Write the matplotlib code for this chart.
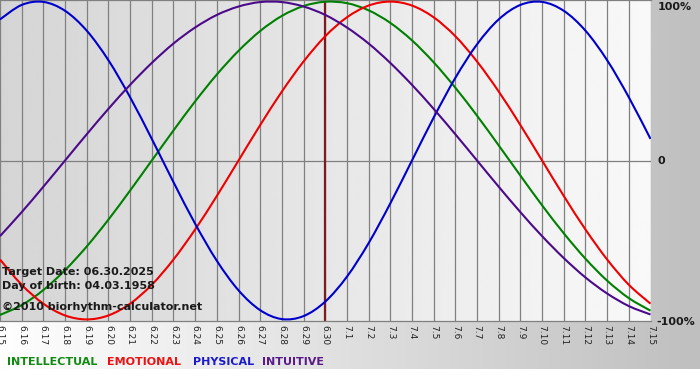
import matplotlib
matplotlib.use("Agg")
import matplotlib.pyplot as plt
from matplotlib.path import Path
from matplotlib.patches import PathPatch
import numpy as np

# dates shown on the x axis (6.15 .. 7.15)
dates = ["6.%d" % d for d in range(15, 31)] + ["7.%d" % d for d in range(1, 16)]
target_idx = 15  # 6.30

# daily cycle values (-1 .. 1)
physical = [0.888, 0.979, 0.998, 0.942, 0.817, 0.631, 0.398, 0.136, -0.136, -0.398,
            -0.631, -0.817, -0.942, -0.998, -0.979, -0.888, -0.731, -0.520, -0.270, 0.0,
            0.270, 0.520, 0.731, 0.888, 0.979, 0.998, 0.942, 0.817, 0.631, 0.398, 0.136]
emotional = [-0.623, -0.782, -0.901, -0.975, -1.0, -0.975, -0.901, -0.782, -0.623, -0.434,
             -0.223, 0.0, 0.223, 0.434, 0.623, 0.782, 0.901, 0.975, 1.0, 0.975,
             0.901, 0.782, 0.623, 0.434, 0.223, 0.0, -0.223, -0.434, -0.623, -0.782, -0.901]
intellectual = [-0.972, -0.910, -0.815, -0.690, -0.541, -0.372, -0.189, 0.0, 0.189, 0.372,
                0.541, 0.690, 0.815, 0.910, 0.972, 0.999, 0.990, 0.945, 0.866, 0.756,
                0.618, 0.458, 0.282, 0.095, -0.095, -0.282, -0.458, -0.618, -0.756, -0.866, -0.945]
intuitive = [-0.476, -0.325, -0.165, 0.0, 0.165, 0.325, 0.476, 0.614, 0.736, 0.837,
             0.916, 0.969, 0.997, 0.997, 0.969, 0.916, 0.837, 0.736, 0.614, 0.476,
             0.325, 0.165, 0.0, -0.165, -0.325, -0.476, -0.614, -0.736, -0.837, -0.916, -0.969]


def smooth_line(ax, xs, ys, color):
    # draw a curve through the points with bezier segments (catmull-rom style)
    p = np.column_stack([xs, ys]).astype(float)
    pp = np.vstack([p[0], p, p[-1]])
    verts = [p[0]]
    codes = [Path.MOVETO]
    for i in range(len(p) - 1):
        p0, p1, p2, p3 = pp[i], pp[i + 1], pp[i + 2], pp[i + 3]
        verts += [p1 + (p2 - p0) / 6, p2 - (p3 - p1) / 6, p2]
        codes += [Path.CURVE4] * 3
    ax.add_patch(PathPatch(Path(verts, codes), fill=False, edgecolor=color,
                           lw=1.5, zorder=3, capstyle="butt"))


W, H = 700, 380
fig = plt.figure(figsize=(W / 100, H / 100), dpi=100)

# page background: grey fade to the right, white strip at the bottom
bg = fig.add_axes([0, 0, 1, 1], zorder=-5)
shade = np.ones((H, W))
shade[:369, :] = np.linspace(1.0, 0.75, W)[None, :]
bg.imshow(np.dstack([shade] * 3), extent=[0, W, H, 0], aspect="auto")
bg.set_axis_off()

# plot area in pixels: x 0..650.5, y 0..321
ax = fig.add_axes([0, 1 - 321 / H, 650.5 / W, 321 / H])
x = np.arange(len(dates))
ax.imshow(np.linspace(0.835, 0.975, 300)[None, :], extent=[0, 30, -1.01, 1.01],
          aspect="auto", cmap="gray", vmin=0, vmax=1, zorder=0)

for i in x:
    ax.axvline(i, color="#808080", lw=0.9, zorder=1)
ax.axhline(0, color="#808080", lw=0.9, zorder=1)
ax.axvline(target_idx, color="#7a1c1c", lw=1.6, zorder=2)

smooth_line(ax, x, intellectual, "#008000")
smooth_line(ax, x, emotional, "#ee0000")
smooth_line(ax, x, physical, "#0000cc")
smooth_line(ax, x, intuitive, "#4b0a8a")

ax.set_xlim(0, 30)
ax.set_ylim(-1.01, 1.01)
ax.set_xticks(x)
ax.set_xticklabels(dates)
ax.tick_params(axis="x", length=0, pad=3, labelsize=6.5, rotation=-90, colors="#222222")
ax.set_yticks([])
for s in ["left", "right"]:
    ax.spines[s].set_visible(False)
for s in ["top", "bottom"]:
    ax.spines[s].set_color("#808080")
    ax.spines[s].set_linewidth(0.9)

info = dict(fontsize=8, fontweight="bold", color="#1a1a1a", va="center", ha="left")
fig.text(2 / W, 1 - 272 / H, "Target Date: 06.30.2025", **info)
fig.text(2 / W, 1 - 286 / H, "Day of birth: 04.03.1958", **info)
fig.text(2 / W, 1 - 307 / H, "©2010 biorhythm-calculator.net", **info)

# percent labels on the right
pct = dict(fontsize=8, fontweight="bold", color="#1a1a1a", ha="left", va="center")
fig.text(658 / W, 1 - 7 / H, "100%", **pct)
fig.text(658 / W, 1 - 161 / H, "0", **pct)
fig.text(656 / W, 1 - 322 / H, "-100%", **pct)

# legend words
leg = [("INTELLECTUAL", "#108a10", 7), ("EMOTIONAL", "#ee1111", 107),
       ("PHYSICAL", "#1a1acc", 193), ("INTUITIVE", "#5a1a8a", 262)]
for word, col, px in leg:
    fig.text(px / W, 1 - 362 / H, word, fontsize=8, fontweight="bold",
             color=col, ha="left", va="center")

fig.savefig("out.png", dpi=100)
